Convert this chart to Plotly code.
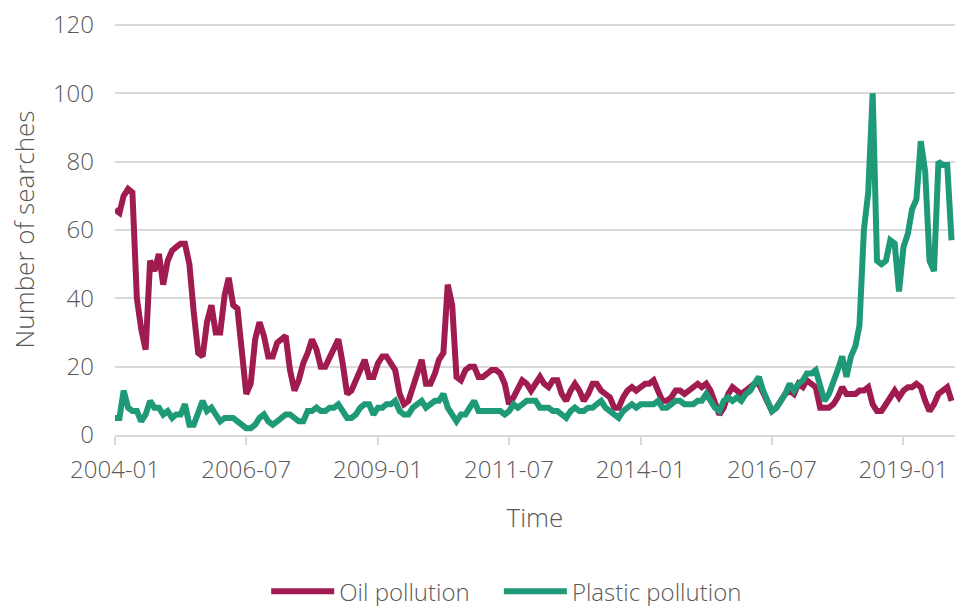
import pandas as pd
import plotly.graph_objects as go

months = pd.date_range("2004-01-01", "2019-12-01", freq="MS")

oil = [
    66, 65, 70, 72, 71, 40, 31, 25, 51, 48,
    53, 44, 51, 54, 55, 56, 56, 50, 36, 24,
    23, 33, 38, 30, 30, 41, 46, 38, 37, 24,
    12, 15, 28, 33, 29, 23, 23, 27, 28, 29,
    19, 13, 16, 21, 24, 28, 25, 20, 20, 23,
    26, 28, 21, 12, 13, 16, 20, 22, 17, 17,
    21, 23, 23, 21, 19, 12, 9, 10, 14, 17,
    22, 15, 15, 18, 22, 24, 44, 38, 17, 16,
    19, 20, 20, 17, 17, 18, 19, 19, 18, 15,
    9, 11, 14, 16, 15, 13, 15, 17, 15, 14,
    16, 16, 12, 10, 13, 15, 13, 10, 12, 15,
    15, 13, 12, 11, 8, 8, 11, 13, 14, 13,
    14, 15, 15, 16, 13, 10, 10, 11, 13, 13,
    12, 13, 14, 15, 14, 15, 13, 9, 6, 8,
    12, 14, 13, 12, 13, 14, 15, 15, 12, 9,
    7, 8, 10, 12, 13, 12, 15, 14, 16, 15,
    14, 8, 8, 8, 9, 11, 14, 12, 12, 12,
    13, 13, 14, 9, 7, 7, 9, 11, 13, 11,
    13, 14, 14, 15, 14, 10, 7, 9, 12, 13,
    14, 10,
]

plastic = [
    5, 5, 13, 8, 7, 7, 4, 6, 10, 8,
    8, 6, 7, 5, 6, 6, 9, 3, 3, 7,
    10, 7, 8, 6, 4, 5, 5, 5, 4, 3,
    2, 2, 3, 5, 6, 4, 3, 4, 5, 6,
    6, 5, 4, 4, 7, 7, 8, 7, 7, 8,
    8, 9, 7, 5, 5, 6, 8, 9, 9, 6,
    8, 8, 9, 9, 10, 7, 6, 6, 8, 9,
    10, 8, 9, 10, 10, 12, 8, 6, 4, 6,
    6, 8, 10, 7, 7, 7, 7, 7, 7, 6,
    7, 9, 8, 9, 10, 10, 10, 8, 8, 8,
    7, 7, 6, 5, 7, 8, 7, 7, 8, 8,
    9, 10, 8, 7, 6, 5, 7, 8, 9, 8,
    9, 9, 9, 9, 10, 8, 8, 9, 10, 10,
    9, 9, 9, 10, 10, 12, 10, 8, 7, 10,
    11, 10, 11, 10, 12, 13, 15, 17, 13, 10,
    7, 8, 10, 12, 15, 13, 15, 16, 18, 18,
    19, 14, 10, 12, 15, 19, 23, 17, 23, 26,
    32, 60, 71, 100, 51, 50, 51, 57, 56, 42,
    55, 59, 66, 69, 86, 77, 51, 48, 80, 79,
    79, 57,
]

tick_labels = ["2004-01", "2006-07", "2009-01", "2011-07", "2014-01", "2016-07", "2019-01"]
tick_vals = [pd.Timestamp(t + "-01") for t in tick_labels]

series_names = ["Oil pollution", "Plastic pollution"]
colors = ["#A01C50", "#1F9A78"]
legend_ids = ["legend", "legend2"]

FONT = "Open Sans"
GRAY = "#595959"
GRID = "#D9D9D9"

fig = go.Figure()
for name, vals, col, lg in zip(series_names, [oil, plastic], colors, legend_ids):
    fig.add_trace(go.Scatter(
        x=months, y=vals, mode="lines", name=name, legend=lg,
        line=dict(color=col, width=6, shape="linear"),
    ))

legend_font = dict(family=FONT, size=24, color=GRAY, weight=300)

fig.update_layout(
    width=955, height=606,
    margin=dict(l=115, r=0, t=24, b=171, autoexpand=False),
    paper_bgcolor="white", plot_bgcolor="white",
    font=dict(family=FONT, color=GRAY, size=24, weight=300),
    showlegend=True,
    legend=dict(
        orientation="h", x=0.18, xanchor="left", y=-0.381, yanchor="middle",
        font=legend_font, itemwidth=63,
    ),
    legend2=dict(
        orientation="h", x=0.457, xanchor="left", y=-0.381, yanchor="middle",
        font=legend_font, itemwidth=63,
    ),
    xaxis=dict(
        range=[pd.Timestamp("2004-01-01"), pd.Timestamp("2019-12-25")],
        tickmode="array", tickvals=tick_vals, ticktext=tick_labels,
        ticks="outside", ticklen=8, tickcolor=GRID, tickwidth=1.5,
        showline=True, linecolor=GRID, linewidth=1.5,
        showgrid=False, zeroline=False, automargin=False,
        ticklabelstandoff=4, ticklabeloverflow="allow",
        tickfont=dict(family=FONT, size=24, color=GRAY, weight=300),
        title=dict(text="Time", font=dict(family=FONT, size=26, color=GRAY, weight=300), standoff=25),
    ),
    yaxis=dict(
        range=[0, 120.3], tickmode="array", tickvals=[0, 20, 40, 60, 80, 100, 120],
        showgrid=True, gridcolor=GRID, gridwidth=1.5,
        zeroline=False, showline=False, ticks="", automargin=False,
        ticklabelstandoff=20, ticklabeloverflow="allow",
        tickfont=dict(family=FONT, size=24, color=GRAY, weight=300),
        title=dict(text="Number of searches", font=dict(family=FONT, size=26, color=GRAY, weight=300), standoff=10),
    ),
)

# remove the default page margin so the figure fills the window exactly
fig.write_html(
    "out.html",
    config={"displayModeBar": False},
    post_script="document.body.style.margin='0px';"
                "document.body.style.overflow='hidden';"
                "document.documentElement.style.overflow='hidden';",
)
